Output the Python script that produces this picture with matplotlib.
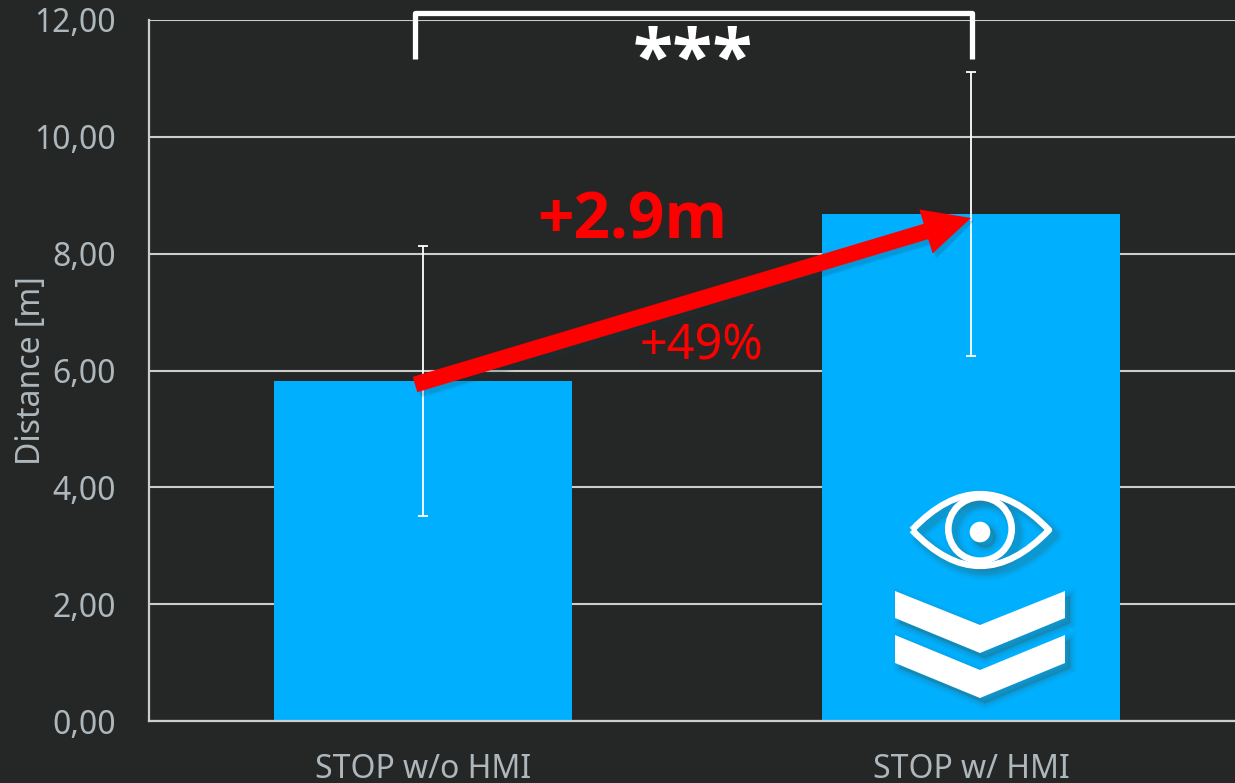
import matplotlib
matplotlib.use("Agg")
import matplotlib.pyplot as plt
from matplotlib.patches import Polygon, PathPatch, Circle, FancyArrow
from matplotlib.path import Path
from matplotlib.transforms import Affine2D

categories = ["STOP w/o HMI", "STOP w/ HMI"]
means = [5.82, 8.68]
err_low = [2.31, 2.43]
err_high = [2.31, 2.43]
y_ticks = [0, 2, 4, 6, 8, 10, 12]
y_tick_labels = ["0,00", "2,00", "4,00", "6,00", "8,00", "10,00", "12,00"]
y_label = "Distance [m]"

BG = "#252726"
BAR = "#00B0FF"
GRID = "#C9CDCD"
TXT = "#AEB8BC"
RED = "#FF0000"
FONT = "Noto Sans"
BOLD = "Open Sans"

W, H = 1235, 783
fig = plt.figure(figsize=(W / 100, H / 100), dpi=100, facecolor=BG)
ax = fig.add_axes([149 / W, (H - 721) / H, 1096 / W, 701 / H], facecolor=BG)
ax.set_xlim(-0.5, 1.5)
ax.set_ylim(0, 12)
ax.set_axisbelow(True)
ax.yaxis.grid(True, color=GRID, lw=1.5)
ax.xaxis.grid(False)
for s in ["top", "right"]:
    ax.spines[s].set_visible(False)
for s in ["left", "bottom"]:
    ax.spines[s].set_color(GRID)
    ax.spines[s].set_linewidth(1.6)

x = list(range(len(categories)))
ax.bar(x, means, width=298 / 548, color=BAR, zorder=2)
ax.errorbar(x, means, yerr=[err_low, err_high], fmt="none", ecolor="white",
            elinewidth=1.3, capsize=3.6, capthick=1.3, zorder=3)
ax.set_xticks(x, categories)
ax.set_yticks(y_ticks, y_tick_labels)
ax.tick_params(axis="both", length=0, labelcolor=TXT, labelsize=23)
ax.tick_params(axis="y", pad=24)
ax.tick_params(axis="x", pad=23)
for t in ax.get_xticklabels() + ax.get_yticklabels():
    t.set_fontfamily(FONT)
fig.text(32 / W, (H - 371) / H, y_label, rotation=90, color=TXT, fontsize=23,
         family=FONT, ha="center", va="center")

# overlay drawn in image pixels (origin top-left)
px = Affine2D().scale(1, -1).translate(0, H)


def add(p):
    p.set_transform(px)
    p.set_clip_on(False)
    fig.add_artist(p)
    return p


# significance bracket
bracket_x = [415, 415, 972, 972]
bracket_y = [59, 13, 13, 59]
add(plt.Line2D(bracket_x, bracket_y, color="white", lw=3.8, solid_joinstyle="round",
               solid_capstyle="butt", zorder=6))
fig.text(693 / W, (H - 63) / H, "***", color="white", fontsize=53, fontweight="bold",
         family=BOLD, ha="center", va="center", zorder=6, linespacing=1)

# red arrow
for g, al in [(6, 0.08), (3, 0.12)]:
    a = FancyArrow(415 + 3, 384.5 + 3, 971 - 415, 218 - 384.5, width=16 + g, head_width=46 + g,
                   head_length=47, length_includes_head=True, color="#123A4A", lw=0,
                   alpha=al, zorder=6.5)
    add(a)
add(FancyArrow(415, 384.5, 971 - 415, 218 - 384.5, width=16, head_width=46, head_length=47,
               length_includes_head=True, color=RED, lw=0, zorder=7))
fig.text(632 / W, (H - 222) / H, "+2.9m", color=RED, fontsize=46, fontweight="bold",
         family=BOLD, ha="center", va="center", zorder=8)
fig.text(702 / W, (H - 346) / H, "+49%", color=RED, fontsize=35,
         family=FONT, ha="center", va="center", zorder=8)

# icons
chev1 = [(895, 591), (980, 625), (1065, 591), (1065, 618), (980, 653), (895, 618)]
chev2 = [(895, 635), (980, 670), (1065, 635), (1065, 663), (980, 698), (895, 663)]
eye_path = Path([(912, 530), (980, 458), (1049, 530), (980, 602), (912, 530)],
                [Path.MOVETO, Path.CURVE3, Path.CURVE3, Path.CURVE3, Path.CURVE3])


def shapes(color, dx=0, dy=0, alpha=1.0, grow=0.0, z=4):
    off = Affine2D().translate(dx, dy) + px
    arts = [
        Polygon(chev1, closed=True, fc=color, ec=color, lw=grow),
        Polygon(chev2, closed=True, fc=color, ec=color, lw=grow),
        PathPatch(eye_path, fc="none", ec=color, lw=4.6 + grow, joinstyle="round"),
        Circle((980, 529), 31.7, fc="none", ec=color, lw=4.8 + grow),
        Circle((980, 532), 10.3, fc=color, ec=color, lw=grow),
    ]
    for a in arts:
        a.set_transform(off)
        a.set_alpha(alpha)
        a.set_zorder(z)
        a.set_clip_on(False)
        fig.add_artist(a)


for g, al in [(9, 0.06), (6, 0.09), (3.5, 0.11), (1.5, 0.13)]:
    shapes("#2B6A78", dx=5, dy=5, alpha=al, grow=g, z=4)
shapes("white", z=5)

fig.savefig("out.png", dpi=100, facecolor=BG)
